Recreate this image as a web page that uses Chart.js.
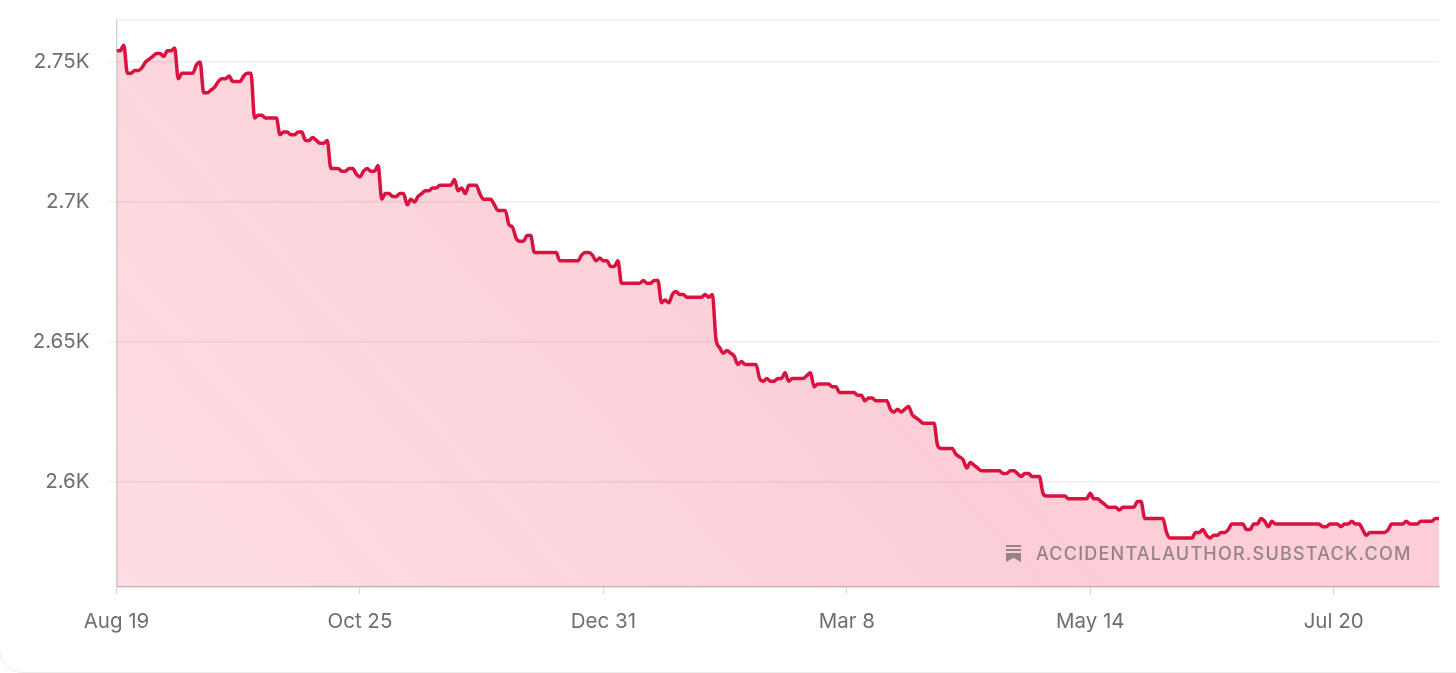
<!DOCTYPE html>
<html>
<head>
<meta charset="utf-8">
<title>Subscribers</title>
<script src="https://cdn.jsdelivr.net/npm/chart.js@4"></script>
<style>
  html, body { margin: 0; padding: 0; background: #fff; overflow: hidden; }
  #wrap { position: relative; width: 1456px; height: 673px; overflow: hidden; }
  #card { position: absolute; left: -1px; top: -60px; width: 1500px; height: 733px; box-sizing: border-box;
          border: 1px solid #ececec; border-radius: 24px; }
  #chart { position: absolute; left: 0; top: 0; }
  #mark { position: absolute; left: 1005px; top: 543px; height: 20px; display: flex; align-items: center;
          font-family: Inter, "Noto Sans", sans-serif; font-size: 18px; font-weight: 500; letter-spacing: 1.22px; color: #968389; white-space: nowrap; }
  #mark svg { margin-right: 14px; }
</style>
</head>
<body>
<div id="wrap">
  <div id="card"></div>
  <canvas id="chart" width="1456" height="673"></canvas>
  <div id="mark">
    <svg width="17" height="18" viewBox="0 0 17 18"><path fill="#968389" d="M1 1h15v2H1zM1 5h15v2H1zM1 9h15v9l-7.500-4L1 18z"/></svg>
    <span>ACCIDENTALAUTHOR.SUBSTACK.COM</span>
  </div>
</div>
<script>
// Daily subscriber counts (Aug 19 onwards)
const subscribers = [
  2754,2754,2756,2746,2746,2747,2747,2748,2750,2751,
  2752,2753,2753,2752,2754,2754,2755,2744,2746,2746,
  2746,2746,2749,2750,2739,2739,2740,2741,2743,2744,
  2744,2745,2743,2743,2743,2745,2746,2746,2730,2731,
  2731,2730,2730,2730,2730,2724,2725,2725,2724,2724,
  2725,2725,2722,2722,2723,2722,2721,2721,2722,2712,
  2712,2712,2711,2711,2712,2712,2710,2709,2711,2712,
  2711,2711,2713,2701,2703,2703,2702,2702,2703,2703,
  2699,2701,2700,2702,2703,2704,2704,2705,2705,2706,
  2706,2706,2706,2708,2704,2705,2703,2706,2706,2706,
  2703,2701,2701,2701,2699,2697,2697,2697,2692,2691,
  2687,2686,2686,2688,2688,2682,2682,2682,2682,2682,
  2682,2682,2679,2679,2679,2679,2679,2679,2681,2682,
  2682,2681,2679,2680,2679,2679,2677,2677,2679,2671,
  2671,2671,2671,2671,2671,2672,2671,2671,2672,2672,
  2664,2665,2664,2667,2668,2667,2667,2666,2666,2666,
  2666,2666,2667,2666,2667,2651,2648,2646,2647,2646,
  2645,2642,2643,2642,2642,2642,2642,2637,2636,2637,
  2636,2636,2637,2637,2639,2636,2637,2637,2637,2637,
  2638,2639,2634,2635,2635,2635,2635,2634,2634,2632,
  2632,2632,2632,2632,2631,2631,2629,2630,2630,2629,
  2629,2629,2629,2626,2625,2626,2625,2626,2627,2624,
  2623,2622,2621,2621,2621,2621,2613,2612,2612,2612,
  2612,2610,2609,2608,2605,2607,2606,2605,2604,2604,
  2604,2604,2604,2604,2603,2603,2604,2604,2603,2602,
  2603,2603,2602,2602,2602,2596,2595,2595,2595,2595,
  2595,2595,2594,2594,2594,2594,2594,2594,2596,2594,
  2594,2593,2592,2591,2591,2591,2590,2591,2591,2591,
  2591,2593,2593,2587,2587,2587,2587,2587,2587,2582,
  2580,2580,2580,2580,2580,2580,2580,2582,2582,2583,
  2581,2580,2581,2581,2582,2582,2583,2585,2585,2585,
  2585,2583,2583,2585,2585,2587,2586,2584,2586,2585,
  2585,2585,2585,2585,2585,2585,2585,2585,2585,2585,
  2585,2585,2584,2584,2585,2585,2585,2584,2585,2585,
  2586,2585,2585,2583,2581,2582,2582,2582,2582,2582,
  2583,2585,2585,2585,2585,2586,2585,2585,2585,2586,
  2586,2586,2586,2587,2587
];
const days = subscribers.map((v, i) => i);

const xTickDays = [0, 67, 134, 201, 268, 335];
const xTickLabels = ['Aug 19', 'Oct 25', 'Dec 31', 'Mar 8', 'May 14', 'Jul 20'];
const yTickValues = [2600, 2650, 2700, 2750];
const yTickLabels = ['2.6K', '2.65K', '2.7K', '2.75K'];

const tickFont = { family: 'Inter, "Noto Sans", sans-serif', size: 20.5 };
const tickColor = '#6e6e6e';

// thin line along the top of the plot
const topLine = {
  id: 'topLine',
  beforeDatasetsDraw(chart) {
    const { ctx, chartArea } = chart;
    ctx.save();
    ctx.strokeStyle = '#eeeeee';
    ctx.lineWidth = 1.5;
    ctx.beginPath();
    ctx.moveTo(chartArea.left, chartArea.top);
    ctx.lineTo(chartArea.right, chartArea.top);
    ctx.stroke();
    ctx.restore();
  }
};

const ctx = document.getElementById('chart').getContext('2d');
new Chart(ctx, {
  type: 'line',
  data: {
    labels: days,
    datasets: [{
      data: subscribers,
      borderColor: '#d9123f',
      borderWidth: 3.5,
      pointRadius: 0,
      cubicInterpolationMode: 'monotone',
      fill: 'start',
      backgroundColor: function(context) {
        const area = context.chart.chartArea;
        if (!area) return 'rgba(240, 30, 70, 0.2)';
        const g = context.chart.ctx.createLinearGradient(area.left, area.bottom, area.left + 550, area.bottom - 500);
        g.addColorStop(0, 'rgba(240, 30, 70, 0.15)');
        g.addColorStop(1, 'rgba(240, 30, 70, 0.22)');
        return g;
      }
    }]
  },
  options: {
    responsive: false,
    animation: false,
    layout: { padding: { top: 20, right: 17, left: 0, bottom: 0 } },
    plugins: { legend: { display: false }, tooltip: { enabled: false } },
    scales: {
      x: {
        type: 'linear',
        bounds: 'data',
        min: 0,
        max: 364,
        afterFit(scale) { scale.height = 86; },
        afterBuildTicks(scale) { scale.ticks = xTickDays.map(d => ({ value: d })); },
        grid: { drawOnChartArea: false, color: '#d6d6d6', tickLength: 7 },
        border: { color: '#cfc6c9', width: 1.5 },
        ticks: {
          font: tickFont,
          color: tickColor,
          padding: 16,
          maxRotation: 0,
          autoSkip: false,
          callback: v => xTickLabels[xTickDays.indexOf(v)]
        }
      },
      y: {
        bounds: 'data',
        min: 2562.5,
        max: 2765,
        afterFit(scale) {
          scale.width = 116.5;
          scale.paddingTop = 0;
          scale.paddingBottom = 0;
        },
        afterBuildTicks(scale) { scale.ticks = yTickValues.map(v => ({ value: v })); },
        grid: { color: '#f0eeef', lineWidth: 1.5, tickLength: 7 },
        border: { color: '#d4d4d4', width: 1.5 },
        ticks: {
          font: tickFont,
          color: tickColor,
          padding: 20,
          autoSkip: false,
          callback: v => yTickLabels[yTickValues.indexOf(v)]
        }
      }
    }
  },
  plugins: [topLine]
});
</script>
</body>
</html>
